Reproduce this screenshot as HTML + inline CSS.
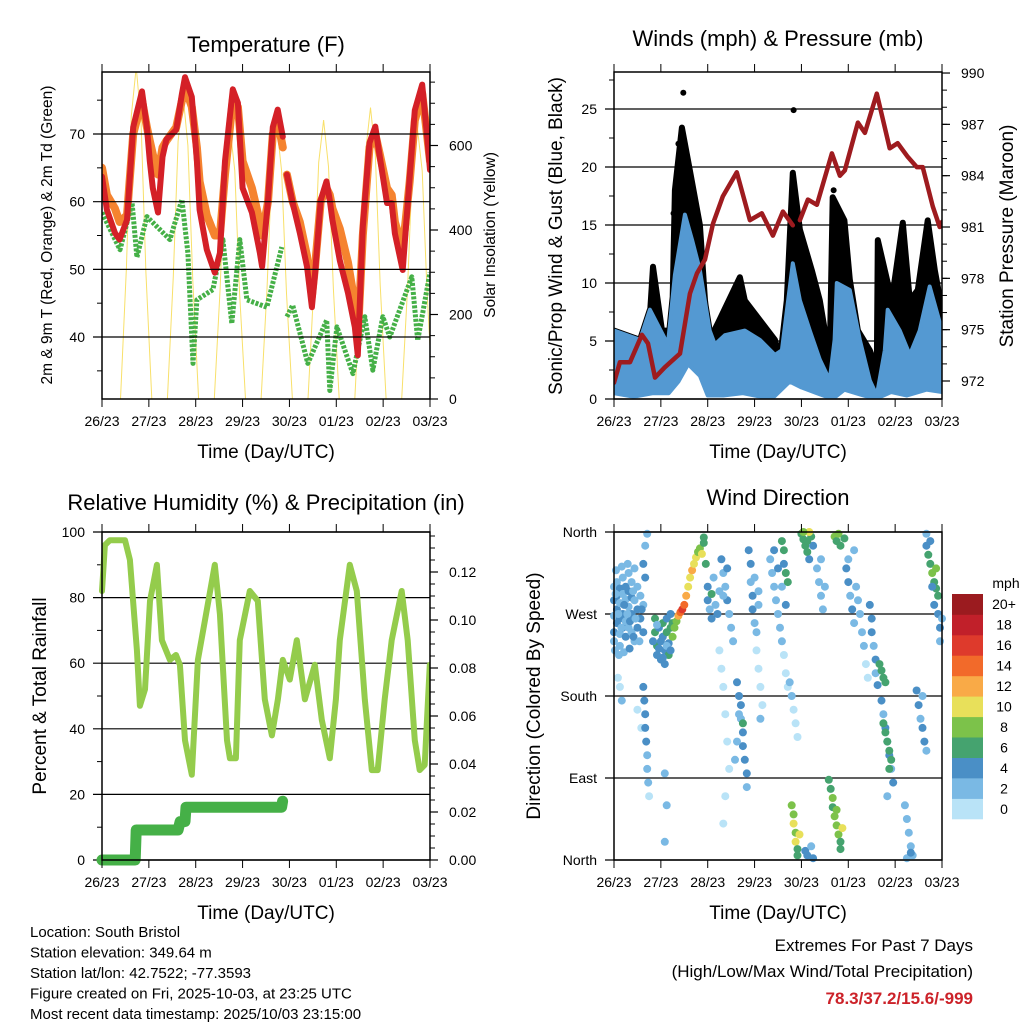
<!DOCTYPE html>
<html><head><meta charset="utf-8"><style>
body{margin:0;background:#fff;}
svg{display:block;font-family:"Liberation Sans",Arial,sans-serif;}
</style></head><body>
<svg id="chart" width="1024" height="1024" viewBox="0 0 1024 1024" xmlns="http://www.w3.org/2000/svg"></svg>
<script>
// ---------- DATA ----------
const dayLabels=['26/23','27/23','28/23','29/23','30/23','01/23','02/23','03/23'];
const dayHours=[0,24,48,72,96,120,144,168];
// Temperature (F)
const redH=[0,2.5,6.6,9,12.8,16,20.5,23,24.5,26,28.7,31,33,38,41,42.5,46,48.6,50,53.7,57.8,60.4,63,67,69.6,72,76.8,80.9,82,85,87.5,90,92.6,null,94.7,97.7,101.3,105,107.5,109,112,115,116.7,118,121.8,126,129.5,131,133.6,137,140,142.3,146,148.4,150,154,157.6,160.2,164,166.8,168];
const redT=[63.7,58.8,55.4,54.4,57.3,71,76.3,71,66,62,58.4,66.6,69.2,70.6,76,78.4,75.5,66,58.8,52.9,49.5,52.4,66,76.6,74.6,62,58.4,52.4,50.4,60.2,71,73.6,69.6,null,64,59.8,55.4,50.4,44.4,48.9,60.2,63,60.2,57.3,51.3,46.5,41.5,37.3,56.3,68.7,71.1,66.6,59.8,59.8,55.3,49.9,63.6,73.5,77.3,68.7,64.7];
const orangeT=[65,61,59,57,58,70,75,71,69,67,64,68,69,71,75,77,74,68,63,58,55,55,64,75,74,66,62,57,55,60,70,72,68,null,64,60,57,52,46,50,60,62,61,59,56,51,45,40,55,68,70,67,62,61,57,53,63,72,76,69,66];
const tdH=[0,9.2,15.4,17.9,23,34.8,40.9,44,46.6,48.6,56.8,61.9,66.5,70.6,74.2,84.4,92.1,null,94.7,97.7,105.4,115.1,116.7,120.3,128.5,134.6,138.7,143.8,147.4,158.7,161.7,168];
const tdV=[58.4,52.9,59.8,51.8,57.8,54.4,60.3,52.4,36.1,45.5,47,54.4,42,54.4,45.5,44.4,53.3,null,43,44.7,36.1,42.5,32.1,41.5,34.6,43,35.1,43,40,48.9,39.5,49.5];
const solarH=[9.5,12.5,15,17.5,20,22.5,25.5,null,33.5,36.5,39,41.5,44,46.5,49.5,null,57.5,60.5,63,65.5,68,70.5,73.5,null,81.5,84.5,87,89.5,92,94.5,97.5,null,105.5,108.5,111,113.5,116,118.5,121.5,null,129.5,132.5,135,137.5,140,142.5,145.5,null,153.5,156.5,159,161.5,164,166.5,169.5];
const solarV=[0,310,670,785,660,300,0,null,0,290,610,720,600,280,0,null,0,260,550,644,540,250,0,null,0,260,550,648,540,250,0,null,0,265,560,660,550,260,0,null,0,275,585,690,580,270,0,null,0,260,550,644,540,250,0];
// Winds (mph) & pressure (mb)
const blueUpH=[0,13.3,18.4,27.6,31.2,36.3,40,44,49,51.7,56.8,67,74.7,82.4,86,91.6,95.2,100.3,105.4,110.5,113,114.1,120.8,125.9,131,134.6,138.7,140.2,146.4,151.5,156.6,161.7,168];
const blueUpV=[5.9,5.1,7.7,4.7,10.7,15.9,13.7,11.1,5.9,4.7,5.5,5.9,5.1,3.8,4.2,11.7,8.5,5.9,3.4,1.6,5.1,10,9.4,5.1,1.6,0.3,4.2,7.7,5.9,3.8,5.9,9.7,5.9];
const blueLoH=[0,10,20,28,33,38,44,48,56,66,75,82,90,96,104,112,118,126,134,142,150,160,168];
const blueLoV=[0.5,0.2,0.5,0.5,1.5,3,2,0.3,0.3,0.5,0.2,0.2,1.5,1,0.5,0,0.8,0.4,0,0.6,0.3,0.8,0.6];
const gustH=[0,3,13.3,18.4,20,24.6,29.7,31.2,34.8,38.9,44,46.6,49,54,64.5,67,74.7,82.4,85,88.5,91.6,95.2,101.3,105.4,110.5,112,118,120.8,124.9,131,134.6,135.1,142.3,147.9,151.5,155.6,160.7,164.3,168];
const gustV=[5.5,5.1,4.7,7.2,11.4,5.9,5.9,18,23.4,19.7,15,8.5,5.1,6.8,10.5,8.5,6.8,5.1,3.4,8.5,19.5,14.6,11.1,8.5,3.4,17.4,15.4,10.3,5.9,4.2,2.5,13.7,8.5,15.2,8.5,9.4,15.4,11.1,7.7];
const gustOutH=[35.5,92,33,36,30.5,37.5,112.5,91];
const gustOutV=[26.4,24.9,22,21,16,17.5,18,17];
const presH=[0,3,8.2,14.3,17.4,21,26,33.8,38.9,42.5,46.6,50.7,55.8,62.9,69.6,75.7,81.4,86.5,91.6,null,95.2,99.3,103.9,111.6,115.7,118.2,124.9,128.5,134.6,141.2,145.3,150.5,155.1,158.1,163.3,166.8,168];
const presV=[971.9,973.1,973.1,974.7,974.2,972.2,972.8,973.6,977.1,978.3,979.1,981.2,982.8,984.2,981.4,981.8,980.5,981.9,981.1,null,981.4,982.6,982.3,985.3,984,984.3,987.1,986.5,988.8,985.6,985.9,985.1,984.5,984.5,982.2,981,981.3];
// Relative humidity (%) & precipitation (in)
const rhH=[0,1.5,4,11.8,14.3,17.9,19.4,22,24.6,28.1,30.7,34.8,37.9,39.9,42.5,46,49.1,52.7,57.8,60.4,64,65.5,68.6,70.6,75.7,79.8,83.4,87,90.1,92.6,96.2,99.8,103.9,109,112.6,116.7,119.8,121.8,126.9,130.5,134.6,138.2,141.2,144.8,148.4,153.5,156.6,160.2,162.7,165.3,167.9];
const rhV=[82,96,97.5,97.5,91.5,64,47,52,79,90,67,61,62.5,59.5,36.5,26,61,73,90,75,36.5,31,31,67,82,79,49,38,49,61,55,67,49,59.5,42.7,31,49,67,90,82,49,27.4,27.4,49,67,82,67,36.5,27.4,29,59.5];
const precipH=[0,17,17.5,39,40,42.5,43,92,92.5];
const precipV=[0,0,0.0125,0.0125,0.016,0.016,0.022,0.022,0.0245];
// Wind direction (time h, direction deg, speed mph)
const wdPts=[[0,300,3],[0,285,4],[0,268,3],[0,250,4],[0,240,3],[1.5,305,3],[1.5,290,4],[1.5,275,4],[1.5,260,5],[3,298,4],[3,282,3],[3,265,4],[3,248,3],[3,235,3],[4.5,310,3],[4.5,292,3],[4.5,270,5],[4.5,255,4],[6,300,4],[6,286,3],[6,262,3],[6,245,4],[7.5,315,3],[7.5,295,4],[7.5,278,3],[7.5,255,3],[9,305,3],[9,288,4],[9,270,4],[9,250,3],[10.5,320,2],[10.5,285,3],[10.5,240,3],[12,300,3],[12,275,4],[12,255,4],[13.5,290,3],[13.5,265,4],[15,280,3],[15,250,4],
[0.8,292,2],[2.2,270,3],[3.8,255,2],[5.2,280,4],[6.8,270,3],[8.2,262,4],[9.8,295,3],[11,265,2],[0.5,230,2],[2.5,225,3],[5,228,2],[8,232,4],[1,318,2],[4,322,3],[7,325,2],[10,245,4],[13,240,3],[14.2,275,4],
[2,200,1],[3,190,1],[4,175,2],[12,165,1],[14,145,1],
[15,190,4],[15.5,175,4],[16,160,5],[16,145,4],[16.5,130,4],[17,115,3],[17,100,3],[17.5,85,2],[18,70,1],[16,345,3],[17,358,2],[15,325,4],[16,310,4],
[21,265,6],[21,250,6],[22,235,7],[22,225,5],[23,255,4],[24,240,5],[24,220,4],[25,260,7],[25,245,4],[26,230,5],[26,215,4],[27,250,6],[27,265,5],[28,238,4],[28,225,6],[29,255,7],[29,270,5],[30,245,8],[30,260,6],
[20,240,4],[22,258,3],[23,232,4],[25,222,4],[27,235,3],[29,230,4],
[26,95,2],[27,60,2],[26,20,2],
[31,255,8],[32,262,9],[33,268,12],[34,272,15],[35,275,16],[36,280,14],[37,290,12],[38,300,11],[39,310,10],[40,318,12],[41,325,10],[42,332,11],[43,338,9],[44,342,8],[45,336,10],[46,348,7],[46,354,6],[47,325,7],
[48,300,4],[48,285,4],[49,275,3],[50,265,4],[50,292,6],[51,310,3],[52,280,3],[53,270,4],[54,295,3],
[55,330,4],[56,315,3],[57,300,3],[58,285,4],[59,270,3],[60,255,3],[61,240,2],[56,290,3],[58,320,4],
[54,230,1],[55,210,1],[56,190,1],[57,160,1],[58,130,1],[59,100,1],[57,70,1],[56,40,1],
[63,195,4],[64,180,4],[65,170,5],[65,155,3],[66,140,4],[66,125,4],[67,110,5],[68,95,4],[68,80,3],[64,160,3],[63,130,2],[62,110,2],[66,150,6],
[69,340,4],[70,325,4],[70,305,3],[71,290,4],[71,275,4],[72,260,3],[73,250,3],[72,310,3],[74,295,2],[74,280,2],
[73,230,1],[74,210,1],[75,190,1],[76,170,1],[75,155,2],
[80,330,2],[81,315,2],[82,300,2],[83,285,2],[84,270,3],[85,255,2],[86,240,2],[87,225,1],[88,205,1],[89,190,1],[82,340,4],[84,320,4],[86,300,3],[88,280,4],
[86,350,6],[87,340,6],[87,325,5],[88,315,7],[89,305,6],
[90,195,2],[91,180,2],[92,165,1],[93,150,1],[94,135,1],
[91,60,8],[92,50,9],[92,40,10],[93,30,8],[93,20,11],[94,12,7],[94,5,6],[95,28,10],
[96,358,7],[97,352,7],[98,345,6],[99,338,6],[100,330,5],[101,355,7],[102,345,5],[100,360,10],[97,360,8],[99,350,7],
[98,10,4],[99,5,4],[101,15,3],[102,2,4],
[104,320,2],[105,305,2],[106,290,2],[107,275,2],[108,300,3],[106,330,2],
[110,88,6],[111,78,7],[112,68,8],[112,58,7],[113,48,9],[114,38,8],[115,28,8],[116,20,7],[116,12,7],[117,35,10],[114,55,8],
[113,355,8],[114,350,6],[115,358,8],[116,345,7],[118,353,6],
[119,320,4],[120,305,4],[121,290,3],[122,275,4],[123,260,3],[124,300,3],[125,285,2],[126,270,2],[127,250,2],[128,235,2],[129,215,1],[130,200,1],[120,330,2],[123,340,2],
[131,280,4],[132,265,4],[132,250,4],[133,235,3],[134,220,4],[134,205,3],[135,192,4],
[137,175,4],[138,160,3],[139,145,4],[140,130,3],[141,115,4],[142,100,3],[143,85,4],[140,70,2],
[136,215,7],[137,208,7],[138,200,6],[139,195,7],
[138,150,6],[139,140,7],[140,130,6],[141,120,6],[142,110,6],[141,100,7],
[149,60,2],[150,45,2],[151,30,2],[152,15,2],[153,5,3],[150,2,3],[152,8,4],
[155,186,4],[156,170,4],[157,155,3],[158,145,4],[159,130,4],[160,120,3],[158,180,3],
[160,345,5],[161,335,6],[162,325,7],[163,315,8],[164,305,6],[165,298,7],[166,290,6],[162,350,4],[164,280,4],[166,270,4],[167,255,4],[168,265,3],[165,320,9],[163,300,4],[160,358,3],[167,240,3]];
const speedColors=['#b9e3f7','#7ab9e4','#4a8fc6','#45a36f','#7cc24a','#e8e05a','#f9aa47','#f26a2a','#de3a2c','#c1202a','#9b1b1f'];
const speedLabels=['0','2','4','6','8','10','12','14','16','18','20+'];

// ---------- HELPERS ----------
const NS='http://www.w3.org/2000/svg';
const svg=document.getElementById('chart');
function mk(tag,attrs,parent){const e=document.createElementNS(NS,tag);for(const k in attrs)e.setAttribute(k,attrs[k]);(parent||svg).appendChild(e);return e;}
function txt(s,x,y,size,anchor,parent,extra){const e=mk('text',Object.assign({x:x,y:y,'font-size':size,'text-anchor':anchor||'middle',fill:'#000'},extra||{}),parent);e.textContent=s;return e;}
function pathFrom(xs,ys,fx,fy){let d='',pen=false;for(let i=0;i<xs.length;i++){if(xs[i]===null||ys[i]===null){pen=false;continue;}d+=(pen?'L':'M')+fx(xs[i]).toFixed(1)+','+fy(ys[i]).toFixed(1);pen=true;}return d;}
const W=328;
function timeX(x0){return h=>x0+h*W/168;}

function frame(g,x0,y0,y1,name){
  for(let i=0;i<dayHours.length;i++){
    const x=timeX(x0)(dayHours[i]);
    const t1=mk('line',{x1:x,y1:y0-8,x2:x,y2:y0,stroke:'#000','stroke-width':1},g);
    
    
    const t2=mk('line',{x1:x,y1:y1,x2:x,y2:y1+8,stroke:'#000','stroke-width':1},g);
    
    
    const l=txt(dayLabels[i],x,y1+27,14,'middle',g);
    
    
  }
  const b=mk('rect',{x:x0,y:y0,width:W,height:y1-y0,fill:'none',stroke:'#000','stroke-width':1.5},g);
  
  
  const xt=txt('Time (Day/UTC)',x0+W/2,y1+59,19,'middle',g);
  
  
}
function leftAxis(g,x0,ticks,labels,fy,minor,grid){
  for(const m of minor){const y=fy(m);const t=mk('line',{x1:x0-5,y1:y,x2:x0,y2:y,stroke:'#000','stroke-width':1},g);
    
    }
  for(let i=0;i<ticks.length;i++){const y=fy(ticks[i]);
    const t=mk('line',{x1:x0-9,y1:y,x2:grid?x0+W:x0,y2:y,stroke:'#000','stroke-width':1.2},g);
    
    
    const l=txt(labels[i],x0-17,y+5,14,'end',g);
    
    }
}
function rightAxis(g,x1,ticks,labels,fy,minor){
  for(const m of minor){const y=fy(m);const t=mk('line',{x1:x1,y1:y,x2:x1+5,y2:y,stroke:'#000','stroke-width':1},g);
    
    }
  for(let i=0;i<ticks.length;i++){const y=fy(ticks[i]);
    const t=mk('line',{x1:x1,y1:y,x2:x1+8,y2:y,stroke:'#000','stroke-width':1.2},g);
    
    
    const l=txt(labels[i],x1+19,y+5,14,'start',g);
    
    }
}
function vtitle(g,s,x,y,size,name){const t=txt(s,x,y,size,'middle',g,{transform:'rotate(-90 '+x+' '+y+')'});
  
  }
function range(a,b,s){const r=[];for(let v=a;v<=b+1e-9;v+=s)r.push(+v.toFixed(4));return r;}

// ---------- PANEL 1: TEMPERATURE ----------
{
const g=mk('g',{});


const x0=102,y0=72,y1=399;
const fx=timeX(x0);
const fy=t=>399-(t-30.84)*6.767;
const fs=v=>399-v*84.5/200;
const tt=txt('Temperature (F)',266,52,22,'middle',g);


const clip=mk('clipPath',{id:'c1'},g);mk('rect',{x:x0,y:y0,width:W,height:y1-y0},clip);
const pg=mk('g',{'clip-path':'url(#c1)'},g);
const so=mk('path',{d:pathFrom(solarH,solarV,fx,fs),fill:'none',stroke:'#f8e06a','stroke-width':1},pg);


const ot=mk('path',{d:pathFrom(redH,orangeT,fx,fy),fill:'none',stroke:'#f5832f','stroke-width':8,'stroke-linejoin':'round','stroke-linecap':'round'},pg);


const td=mk('path',{d:pathFrom(tdH,tdV,fx,fy),fill:'none',stroke:'#45b047','stroke-width':5,'stroke-dasharray':'3 1.5','stroke-linejoin':'round'},pg);


const rt=mk('path',{d:pathFrom(redH,redT,fx,fy),fill:'none',stroke:'#d42027','stroke-width':6,'stroke-linejoin':'round','stroke-linecap':'round'},pg);


leftAxis(g,x0,[40,50,60,70],['40','50','60','70'],fy,[35,45,55,65,75],true);
rightAxis(g,x0+W,[0,200,400,600],['0','200','400','600'],fs,range(50,750,50));
frame(g,x0,y0,y1,'temperature');
vtitle(g,'2m & 9m T (Red, Orange) & 2m Td (Green)',52,235,15.5,'temperature-y-axis-title');
vtitle(g,'Solar Insolation (Yellow)',495,235,15.5,'solar-y-axis-title');
}

// ---------- PANEL 2: WINDS ----------
{
const g=mk('g',{});


const x0=614,y0=72,y1=399;
const fx=timeX(x0);
const fy=v=>399-v*11.6;
const fp=p=>381-(p-972)*17.11;
const tt=txt('Winds (mph) & Pressure (mb)',778,46,22,'middle',g);


leftAxis(g,x0,[0,5,10,15,20,25],['0','5','10','15','20','25'],fy,range(2.5,27.5,5),true);
const clip=mk('clipPath',{id:'c2'},g);mk('rect',{x:x0,y:y0,width:W,height:y1-y0},clip);
const pg=mk('g',{'clip-path':'url(#c2)'},g);
let d='M'+fx(gustH[0])+','+fy(gustV[0]);
for(let i=1;i<gustH.length;i++)d+='L'+fx(gustH[i]).toFixed(1)+','+fy(gustV[i]).toFixed(1);
for(let i=blueUpH.length-1;i>=0;i--)d+='L'+fx(blueUpH[i]).toFixed(1)+','+fy(blueUpV[i]).toFixed(1);
const gb=mk('path',{d:d+'Z',fill:'#000',stroke:'#000','stroke-width':6,'stroke-linejoin':'round'},pg);


for(let i=0;i<gustOutH.length;i++){const c=mk('circle',{cx:fx(gustOutH[i]),cy:fy(gustOutV[i]),r:3,fill:'#000'},pg);
  
  }
let d2='M'+fx(blueUpH[0])+','+fy(blueUpV[0]);
for(let i=1;i<blueUpH.length;i++)d2+='L'+fx(blueUpH[i]).toFixed(1)+','+fy(blueUpV[i]).toFixed(1);
for(let i=blueLoH.length-1;i>=0;i--)d2+='L'+fx(blueLoH[i]).toFixed(1)+','+fy(blueLoV[i]).toFixed(1);
const bb=mk('path',{d:d2+'Z',fill:'#5499d2',stroke:'#5499d2','stroke-width':4,'stroke-linejoin':'round'},pg);


const pr=mk('path',{d:pathFrom(presH,presV,fx,fp),fill:'none',stroke:'#9e1b1f','stroke-width':4.5,'stroke-linejoin':'round','stroke-linecap':'round'},pg);


rightAxis(g,x0+W,[972,975,978,981,984,987,990],['972','975','978','981','984','987','990'],fp,range(973,989,1));
frame(g,x0,y0,y1,'winds');
vtitle(g,'Sonic/Prop Wind & Gust (Blue, Black)',562,236,19,'winds-y-axis-title');
vtitle(g,'Station Pressure (Maroon)',1013,236,19,'pressure-y-axis-title');
}

// ---------- PANEL 3: RH ----------
{
const g=mk('g',{});


const x0=102,y0=532,y1=860;
const fx=timeX(x0);
const fy=v=>860-v*3.28;
const fr=v=>860-v*2400;
const tt=txt('Relative Humidity (%) & Precipitation (in)',266,510,22,'middle',g);


leftAxis(g,x0,[0,20,40,60,80,100],['0','20','40','60','80','100'],fy,[10,30,50,70,90],true);
const clip=mk('clipPath',{id:'c3'},g);mk('rect',{x:x0-8,y:y0,width:W+8,height:y1-y0+8},clip);
const pg=mk('g',{'clip-path':'url(#c3)'},g);
const rh=mk('path',{d:pathFrom(rhH,rhV,fx,fy),fill:'none',stroke:'#94cc4c','stroke-width':6,'stroke-linejoin':'round','stroke-linecap':'round'},pg);


const pc=mk('path',{d:pathFrom(precipH,precipV,fx,fr),fill:'none',stroke:'#45b047','stroke-width':11,'stroke-linejoin':'round','stroke-linecap':'round'},pg);


rightAxis(g,x0+W,[0,0.02,0.04,0.06,0.08,0.10,0.12],['0.00','0.02','0.04','0.06','0.08','0.10','0.12'],fr,range(0.005,0.135,0.005));
frame(g,x0,y0,y1,'humidity');
vtitle(g,'Percent & Total Rainfall',46,696,19,'humidity-y-axis-title');
}

// ---------- PANEL 4: WIND DIRECTION ----------
{
const g=mk('g',{});


const x0=614,y0=532,y1=860;
const fx=timeX(x0);
const fy=d=>532+(360-d)/360*328;
const tt=txt('Wind Direction',778,505,22,'middle',g);


leftAxis(g,x0,[0,90,180,270,360],['North','East','South','West','North'],fy,[],true);
const pg=mk('g',{},g);
for(const p of wdPts){
  const bin=Math.min(10,Math.floor(p[2]/2));
  const c=mk('circle',{cx:fx(p[0]).toFixed(1),cy:fy(p[1]).toFixed(1),r:4,fill:speedColors[bin]},pg);
  
  
}
frame(g,x0,y0,y1,'wind-direction');
vtitle(g,'Direction (Colored By Speed)',540,696,19,'wind-direction-y-axis-title');
const cb=mk('g',{},g);


const bh=225/11;
for(let i=0;i<11;i++){
  const y=594+(10-i)*bh;
  const r=mk('rect',{x:952,y:y.toFixed(1),width:31,height:(bh+0.3).toFixed(1),fill:speedColors[i]},cb);
  
  
  const l=txt(speedLabels[i],1004,y+bh/2+5,14,'middle',cb);
  
  
}
const mu=txt('mph',1006,588,14,'middle',cb);


}

// ---------- FOOTER ----------
{
const g=mk('g',{});


const lines=['Location: South Bristol','Station elevation: 349.64 m','Station lat/lon: 42.7522; -77.3593','Figure created on Fri, 2025-10-03, at 23:25 UTC','Most recent data timestamp: 2025/10/03 23:15:00'];
for(let i=0;i<lines.length;i++){const t=txt(lines[i],30,937+i*20.5,15,'start',g);
  
  }
const e1=txt('Extremes For Past 7 Days',973,951,17,'end',g);


const e2=txt('(High/Low/Max Wind/Total Precipitation)',973,977,17,'end',g);


const e3=txt('78.3/37.2/15.6/-999',973,1004,17,'end',g,{fill:'#cc2229','font-weight':'bold'});


}
</script>
</body></html>
